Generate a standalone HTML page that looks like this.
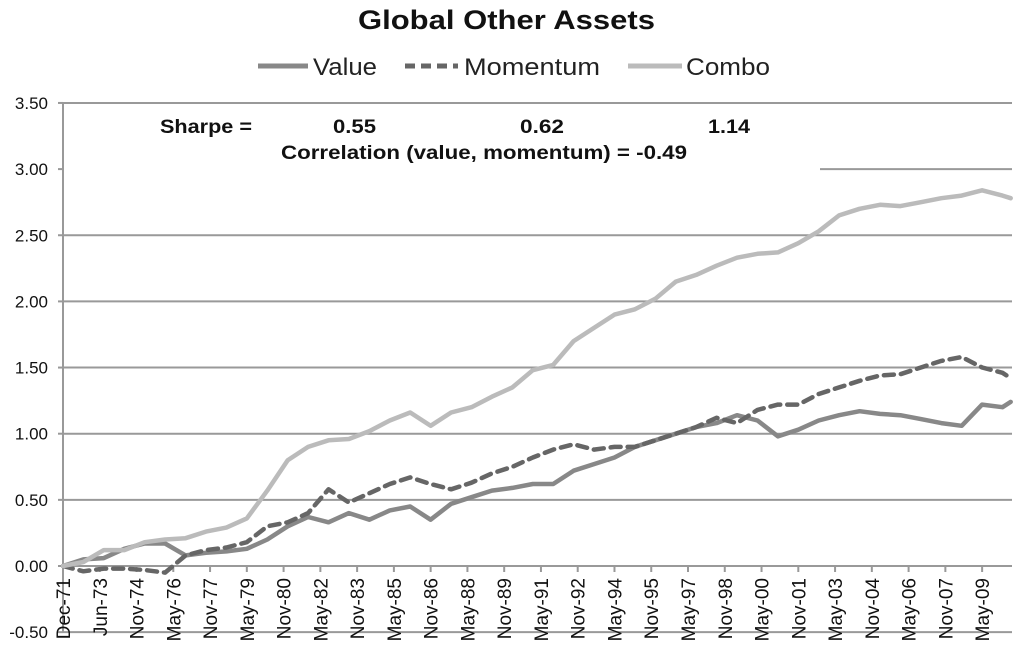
<!DOCTYPE html>
<html><head><meta charset="utf-8"><style>
body{margin:0;background:#fff;}
svg{display:block;font-family:"Liberation Sans",sans-serif;}
</style></head><body>
<svg id="chart" width="1024" height="651" viewBox="0 0 1024 651" xmlns="http://www.w3.org/2000/svg">
<text x="358" y="29" textLength="297" lengthAdjust="spacingAndGlyphs" font-size="27" font-weight="bold" fill="#111">Global Other Assets</text>
<g>
<g><line x1="258" y1="66" x2="308" y2="66" stroke="#888" stroke-width="5"/><text x="313" y="75" font-size="24" textLength="64" lengthAdjust="spacingAndGlyphs" fill="#222">Value</text></g>
<g><line x1="405" y1="66" x2="458" y2="66" stroke="#666" stroke-width="5" stroke-dasharray="10,6"/><text x="464" y="75" font-size="24" textLength="136" lengthAdjust="spacingAndGlyphs" fill="#222">Momentum</text></g>
<g><line x1="628" y1="66" x2="682" y2="66" stroke="#bbb" stroke-width="5"/><text x="686" y="75" font-size="24" textLength="84" lengthAdjust="spacingAndGlyphs" fill="#222">Combo</text></g>
</g>
<g id="grid"></g>
<g id="yaxis"></g>
<g id="xaxis"></g>
<g id="series"></g>
<g font-size="19" font-weight="bold" fill="#111" lengthAdjust="spacingAndGlyphs">
<text x="160" y="133" textLength="92" lengthAdjust="spacingAndGlyphs">Sharpe =</text>
<text x="333" y="133" textLength="43" lengthAdjust="spacingAndGlyphs">0.55</text>
<text x="520" y="133" textLength="44" lengthAdjust="spacingAndGlyphs">0.62</text>
<text x="708" y="133" textLength="42" lengthAdjust="spacingAndGlyphs">1.14</text>
<text x="281" y="159" textLength="406" lengthAdjust="spacingAndGlyphs">Correlation (value, momentum) =  -0.49</text>
</g>
</svg>
<script>
const months=[0,10,20,30,40,50,60,70,80,90,100,110,120,130,140,150,160,170,180,190,200,210,220,230,240,250,260,270,280,290,300,310,320,330,340,350,360,370,380,390,400,410,420,430,440,450,460,464];
const valueSeries=[0,.05,.06,.13,.17,.17,.08,.1,.11,.13,.2,.3,.37,.33,.4,.35,.42,.45,.35,.47,.52,.57,.59,.62,.62,.72,.77,.82,.9,.95,1.0,1.05,1.08,1.14,1.1,.98,1.03,1.1,1.14,1.17,1.15,1.14,1.11,1.08,1.06,1.22,1.2,1.24];
const momentumSeries=[0,-.04,-.02,-.02,-.03,-.05,.08,.12,.14,.18,.3,.33,.4,.58,.48,.55,.62,.67,.62,.58,.63,.7,.75,.82,.88,.92,.88,.9,.9,.95,1.0,1.05,1.12,1.08,1.18,1.22,1.22,1.3,1.35,1.4,1.44,1.45,1.5,1.55,1.58,1.5,1.46,1.42];
const comboSeries=[0,.03,.12,.12,.18,.2,.21,.26,.29,.36,.57,.8,.9,.95,.96,1.02,1.1,1.16,1.06,1.16,1.2,1.28,1.35,1.48,1.52,1.7,1.8,1.9,1.94,2.02,2.15,2.2,2.27,2.33,2.36,2.37,2.44,2.53,2.65,2.7,2.73,2.72,2.75,2.78,2.8,2.84,2.8,2.78];
const yTicks=[-0.5,0,0.5,1,1.5,2,2.5,3,3.5];
const xTickLabels=["Dec-71","Jun-73","Nov-74","May-76","Nov-77","May-79","Nov-80","May-82","Nov-83","May-85","Nov-86","May-88","Nov-89","May-91","Nov-92","May-94","Nov-95","May-97","Nov-98","May-00","Nov-01","May-03","Nov-04","May-06","Nov-07","May-09"];
const NS="http://www.w3.org/2000/svg";
const L=63,R=1012;
function xs(m){return 63+m*2.0425;}
function ys(v){return 566-v*132.3;}
function mk(t,a,p){const e=document.createElementNS(NS,t);for(const k in a)e.setAttribute(k,a[k]);p.appendChild(e);return e;}
const grid=document.getElementById('grid'),ya=document.getElementById('yaxis'),xa=document.getElementById('xaxis'),se=document.getElementById('series');
yTicks.forEach(v=>{
  const x1=(v===3)?820:L;
  if(v!==0){const g=mk('line',{x1:x1,x2:R,y1:ys(v),y2:ys(v),stroke:'#999','stroke-width':2},grid);
  
  }
  mk('line',{x1:L-5,x2:L,y1:ys(v),y2:ys(v),stroke:'#999','stroke-width':2},ya);
  const t=mk('text',{x:48,y:ys(v)+6,'text-anchor':'end','font-size':17,fill:'#111'},ya);
  
  
  t.textContent=v.toFixed(2);
});
mk('line',{x1:L,x2:L,y1:ys(3.5),y2:ys(-0.5),stroke:'#999','stroke-width':2},ya);
mk('line',{x1:L,x2:R,y1:ys(0),y2:ys(0),stroke:'#999','stroke-width':2},xa);
xTickLabels.forEach((lab,i)=>{
  const x=xs(i*18);
  mk('line',{x1:x,x2:x,y1:ys(0),y2:ys(0)+6,stroke:'#999','stroke-width':2},xa);
  const t=mk('text',{x:0,y:0,'text-anchor':'end','font-size':19,fill:'#111',transform:`translate(${x+7},${ys(0)+12}) rotate(-90)`},xa);
  
  
  t.textContent=lab;
});
function draw(vals,color,dash,name){
  const d=vals.map((v,i)=>(i?'L':'M')+xs(months[i]).toFixed(1)+','+ys(v).toFixed(1)).join(' ');
  const p=mk('path',{d:d,fill:'none',stroke:color,'stroke-width':4.5,'stroke-linejoin':'round','stroke-linecap':'round'},se);
  if(dash)p.setAttribute('stroke-dasharray',dash);
  
  
}
draw(valueSeries,'#888',null,'value-line');
draw(momentumSeries,'#666','10,7','momentum-line');
draw(comboSeries,'#bbb',null,'combo-line');
</script>
</body></html>
